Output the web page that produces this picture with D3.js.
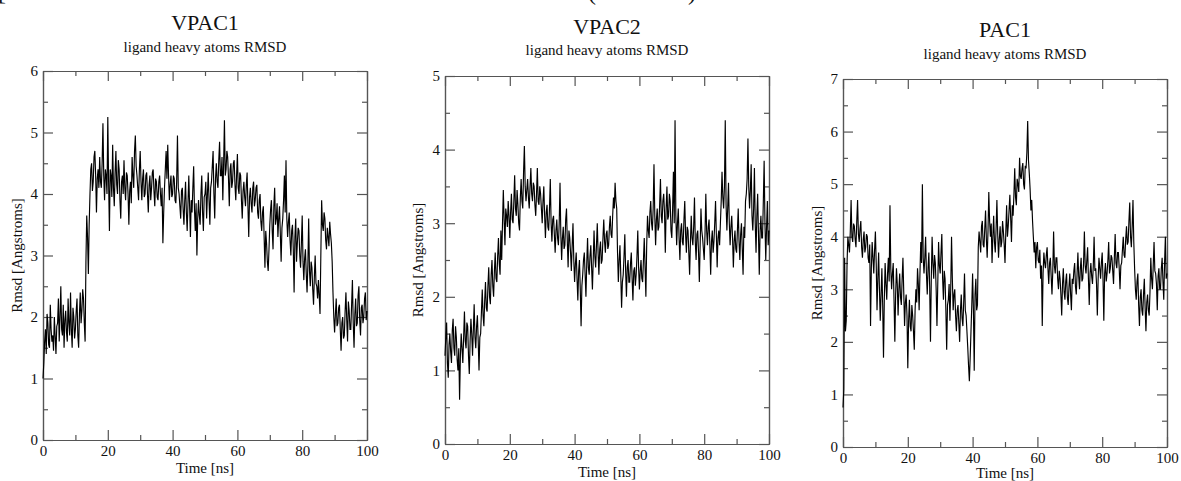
<!DOCTYPE html>
<html><head><meta charset="utf-8">
<script src="https://cdn.jsdelivr.net/npm/d3@7"></script>
<style>
html,body{margin:0;padding:0;background:#fff;}
svg{display:block;}
text{font-family:"Liberation Serif","Times New Roman",serif;fill:#111;}
</style></head>
<body>
<svg id="chart" width="1181" height="481"></svg>
<script>
// ---- data (time step 0.25 ns, 0..100 ns) ----
const timeStep = 0.25;
const titles = ["VPAC1", "VPAC2", "PAC1"];
const subtitle = "ligand heavy atoms RMSD";
const xLabel = "Time [ns]";
const yLabel = "Rmsd [Angstroms]";
const xTicks = [0, 20, 40, 60, 80, 100];
const yMax = [6, 5, 7];

const vpac1 = [
 1.0,1.25,1.6,1.8,1.4,2.05,1.9,1.55,1.5,2.2,1.8,1.6,1.7,1.45,2.0,1.7,1.4,1.85,1.9,2.3,
 1.6,2.0,2.5,1.8,1.7,2.2,1.5,1.95,2.1,1.75,1.6,2.3,1.9,1.7,2.4,1.8,1.5,2.15,2.0,1.65,
 1.8,2.1,2.3,1.7,1.5,2.05,2.4,1.9,2.1,2.45,2.3,1.9,1.6,2.9,3.65,3.3,2.7,3.5,4.0,4.4,
 4.5,4.05,4.2,4.6,4.7,4.3,3.7,4.25,4.4,4.1,4.6,4.2,4.1,4.5,5.15,4.3,3.9,4.4,4.3,4.0,
 5.25,4.2,3.4,4.4,4.3,3.95,4.8,4.1,3.8,4.35,4.7,4.15,4.0,4.55,4.4,3.9,3.6,4.2,4.3,4.0,
 4.55,4.1,3.9,4.35,4.3,4.0,3.5,4.05,4.2,3.85,4.6,4.3,4.1,4.7,4.95,4.45,4.3,4.1,3.9,4.4,
 4.7,4.2,3.9,4.25,4.4,3.95,4.0,4.3,4.35,4.0,3.7,4.15,4.3,3.9,4.1,4.35,4.4,4.05,3.8,4.25,
 4.2,3.95,3.9,4.2,4.3,4.0,3.8,4.1,3.2,3.7,4.1,4.4,4.7,4.25,4.8,4.3,3.9,4.15,4.3,3.95,
 4.0,4.3,4.25,3.9,3.85,4.2,4.95,4.1,4.0,3.8,3.6,4.05,4.1,3.75,3.5,3.9,4.2,3.7,3.4,3.85,
 4.3,3.8,3.3,3.9,3.7,4.1,4.45,3.75,3.4,3.85,3.0,3.6,3.9,3.65,3.5,4.0,4.3,3.7,3.4,3.95,
 4.0,4.2,3.6,4.0,4.35,3.9,3.5,4.1,4.2,4.45,4.7,4.0,3.6,4.25,4.5,4.2,4.1,4.55,4.85,4.3,
 4.3,4.6,3.9,4.5,5.2,4.3,4.4,4.7,4.6,4.25,3.8,4.4,4.5,4.1,4.2,4.5,4.55,4.15,3.9,4.3,
 4.65,4.1,4.0,4.35,4.3,3.9,3.6,4.05,4.2,3.95,3.8,4.15,4.35,3.8,3.3,3.95,4.1,3.85,3.7,4.1,
 4.2,3.8,3.9,4.1,4.15,3.7,3.6,3.9,4.0,3.55,3.4,3.7,3.8,3.3,2.8,3.4,3.2,2.9,2.75,3.1,
 3.5,3.75,3.9,3.4,3.1,3.8,4.1,3.5,3.6,3.85,3.3,3.6,3.8,3.35,2.9,3.45,3.6,3.9,4.3,3.7,
 4.55,3.6,3.3,3.55,3.7,3.25,3.0,3.4,3.5,3.1,2.4,3.3,3.6,2.9,3.2,3.45,3.4,3.0,2.8,3.2,
 3.65,2.9,2.6,2.95,3.1,2.7,2.4,2.85,3.6,2.75,2.5,2.9,2.8,2.45,2.2,2.65,3.0,2.55,2.5,2.3,
 2.6,2.35,2.05,3.0,3.9,3.5,3.4,3.7,3.6,3.25,3.1,3.45,3.3,3.15,3.55,3.35,3.2,2.9,2.4,2.0,
 1.75,2.05,2.3,1.85,1.9,2.15,2.2,1.8,1.45,1.9,2.0,1.65,1.7,2.1,2.4,1.95,1.6,2.25,2.1,1.8,
 1.8,2.2,2.6,1.9,1.5,2.05,2.3,1.85,1.9,2.35,2.5,1.95,1.7,2.15,2.2,1.9,2.0,2.3,2.4,1.95,
 2.1];

const vpac2 = [
 1.2,1.45,1.65,1.1,0.9,1.35,1.5,1.25,1.1,1.55,1.7,1.3,1.2,1.6,1.45,1.15,1.0,1.3,0.6,1.2,
 1.5,1.3,1.1,1.45,1.8,1.4,1.3,1.65,1.6,1.2,0.95,1.4,1.7,1.5,1.2,1.55,1.9,1.45,1.3,1.6,
 1.75,1.4,1.0,1.45,1.5,1.8,2.1,1.75,1.6,1.95,2.2,1.85,1.8,2.15,2.4,2.0,1.9,2.3,2.5,2.15,
 2.0,2.35,2.6,2.25,2.2,2.55,2.8,2.45,2.3,2.9,2.5,3.0,3.45,3.05,2.7,3.2,3.1,2.95,3.3,3.1,
 2.8,3.15,3.4,3.05,3.0,3.3,3.65,3.2,3.1,3.45,3.25,3.0,2.9,3.35,3.6,3.3,3.2,3.7,4.05,3.5,
 3.3,3.45,3.6,3.35,3.2,3.5,3.75,3.4,3.3,3.55,3.5,3.25,3.1,3.4,3.75,3.3,3.25,3.5,3.4,3.2,
 3.0,3.3,3.5,3.1,2.8,3.15,3.25,2.95,2.9,3.2,3.6,3.0,2.75,3.05,3.1,2.85,2.6,2.9,3.05,2.8,
 2.7,3.0,3.55,2.85,2.5,2.8,2.95,2.65,2.7,3.05,3.2,2.75,2.4,2.9,2.8,2.6,2.35,2.7,3.0,2.5,
 2.2,2.45,2.6,2.25,1.95,2.35,2.5,2.1,1.6,2.15,2.3,2.5,2.6,2.3,2.0,2.45,2.8,2.4,2.3,2.55,
 2.7,2.4,2.1,2.5,2.9,2.55,2.4,2.7,3.0,2.6,2.3,2.65,2.75,2.45,2.5,2.8,3.05,2.75,2.6,2.85,
 2.9,2.65,2.7,2.95,3.1,2.85,2.8,3.1,3.35,3.2,3.55,3.3,3.2,2.6,2.2,2.5,2.7,2.3,1.85,2.2,
 2.3,2.55,2.85,2.35,2.0,2.4,2.5,2.2,2.2,2.45,2.6,2.25,1.95,2.35,2.4,2.15,2.3,2.55,2.9,2.4,
 2.1,2.35,2.5,2.25,2.2,2.5,2.8,2.4,2.0,2.7,3.1,2.9,2.8,3.15,3.3,3.0,2.9,3.2,3.8,3.1,
 2.7,3.05,3.2,2.9,2.95,3.25,3.6,3.1,3.0,3.3,3.4,3.15,2.6,3.2,3.5,3.05,3.1,3.4,3.3,2.9,
 2.8,3.2,3.7,3.0,4.4,3.1,2.7,3.0,3.2,2.8,2.5,2.9,3.0,2.75,2.7,3.05,3.3,2.85,2.6,2.95,
 2.9,2.6,2.3,2.75,3.1,2.8,2.7,2.95,3.35,2.75,2.5,2.85,2.9,2.6,2.2,2.7,3.2,2.9,2.8,2.65,
 2.5,2.85,3.4,2.9,2.7,2.95,3.05,2.7,2.3,2.75,2.9,2.6,2.75,3.0,3.3,2.85,2.4,2.8,2.9,2.7,
 3.0,3.3,3.7,3.35,3.2,3.5,4.4,3.25,2.9,3.2,3.55,3.0,2.7,2.95,3.1,2.8,2.4,2.75,2.9,2.65,
 2.6,2.9,3.2,2.75,2.5,2.85,3.0,2.65,2.3,2.95,2.8,3.3,3.4,3.6,4.15,3.5,3.2,3.45,3.8,3.1,
 2.9,3.2,3.75,3.0,2.6,3.1,3.4,2.85,2.3,2.9,3.1,2.8,2.8,3.3,3.85,3.0,2.5,2.95,3.3,2.7,
 2.9];

const pac1 = [
 0.75,1.1,3.6,2.2,2.4,3.5,4.0,3.85,3.7,4.1,4.7,4.0,3.9,4.25,4.2,3.95,3.8,4.3,4.7,4.05,
 3.9,4.15,4.3,3.8,3.6,3.95,4.1,3.7,3.8,4.05,4.0,3.6,3.5,3.85,2.3,3.4,3.9,3.6,3.3,3.75,
 4.1,3.5,2.6,3.2,3.7,3.0,2.4,2.9,3.4,2.7,1.7,2.8,3.5,3.1,2.8,3.3,3.6,3.15,4.6,3.4,
 3.0,3.3,3.5,2.8,2.0,2.9,3.4,3.1,2.5,3.0,3.3,2.85,2.7,3.2,3.6,2.95,2.3,2.75,2.9,2.5,
 1.5,2.4,2.8,2.3,2.2,2.7,2.5,2.2,1.85,2.6,3.0,2.75,3.4,3.1,2.6,3.3,3.9,3.5,5.0,3.6,
 3.3,3.6,4.0,3.3,2.9,3.4,3.7,3.05,2.0,3.2,4.0,3.5,3.2,3.65,3.5,3.0,2.3,3.1,3.9,3.45,
 3.3,3.7,4.05,3.2,2.8,3.35,3.2,2.6,1.85,2.7,2.8,3.1,2.4,3.0,4.0,3.2,2.6,2.9,3.0,2.5,
 2.2,2.6,2.7,2.35,2.0,2.6,2.9,2.45,2.3,2.75,3.3,2.6,2.5,2.2,1.9,1.55,1.25,1.7,2.2,2.7,
 3.3,2.6,1.45,2.9,3.2,2.6,2.7,3.8,4.1,3.9,3.7,4.2,4.3,3.85,3.8,4.15,4.5,3.95,3.6,4.1,
 4.85,4.3,4.0,4.25,3.5,4.0,4.4,3.9,3.7,4.15,4.7,4.05,3.6,3.95,4.2,3.8,3.9,4.3,4.1,3.85,
 3.5,4.1,4.6,4.0,4.2,4.5,4.8,4.35,3.9,4.6,4.4,4.8,5.3,4.75,4.6,5.1,5.0,4.85,5.5,5.15,
 5.1,5.3,5.4,5.0,4.9,5.35,5.3,5.6,6.2,5.45,5.2,4.9,4.5,4.7,4.3,4.0,3.7,3.9,3.4,3.8,
 3.9,3.55,3.5,3.75,3.2,3.45,2.3,3.3,3.7,3.5,3.4,3.65,3.8,3.4,3.1,3.5,3.6,3.25,2.9,3.35,
 4.1,3.45,3.3,3.6,3.6,3.2,3.0,3.35,3.2,2.9,2.5,3.1,3.4,2.95,2.8,3.15,3.3,2.85,2.7,3.05,
 3.3,2.9,2.6,3.2,3.1,3.35,3.5,3.05,2.9,3.3,3.7,3.25,3.0,3.4,3.6,3.15,3.2,3.5,4.1,3.45,
 3.3,3.55,3.8,3.2,2.7,3.3,3.5,3.25,3.1,3.45,4.0,3.35,3.4,3.1,2.5,3.2,3.6,3.4,3.2,3.5,
 3.7,3.2,2.4,3.3,3.5,3.15,3.3,3.55,3.9,3.3,3.4,3.65,3.6,3.35,3.1,3.6,4.05,3.5,3.4,3.7,
 3.7,3.4,3.0,3.45,3.5,3.75,4.0,3.65,3.6,3.95,4.2,3.85,3.9,4.3,4.65,4.0,3.8,4.2,4.7,3.9,
 3.4,3.0,2.8,3.15,3.3,2.7,2.3,2.85,3.0,2.6,2.5,2.9,3.2,2.65,2.2,2.75,2.9,2.6,2.5,2.95,
 3.6,3.2,3.0,3.45,3.9,3.35,3.3,3.1,2.6,3.25,3.4,3.0,3.0,3.4,3.6,3.15,2.8,3.5,4.0,3.2,
 3.3];

const series = [vpac1, vpac2, pac1];

// ---- layout ----
const panels = [
  {x0: 43,  x1: 367,  top: 71, bottom: 440, titleY: 30, subY: 52, ylabX: 22},
  {x0: 445, x1: 769,  top: 76, bottom: 444, titleY: 34, subY: 55, ylabX: 423},
  {x0: 843, x1: 1167, top: 79, bottom: 447, titleY: 37, subY: 59, ylabX: 822}
];
const frameColor = "#555";

const svg = d3.select("#chart");

// clipped caption fragments at the very top edge (as in the reference)
svg.append("text").attr("x", -2).attr("y", 0).attr("font-size", 24).text("[");
svg.append("text").attr("x", 588).attr("y", 0).attr("font-size", 24).text("(");
svg.append("text").attr("x", 688).attr("y", 0).attr("font-size", 24).text(")");

panels.forEach((p, i) => {
  const data = series[i].map((v, k) => ({t: k * timeStep, v: v}));
  const x = d3.scaleLinear().domain([0, 100]).range([p.x0, p.x1]);
  const y = d3.scaleLinear().domain([0, yMax[i]]).range([p.bottom, p.top]);
  const g = svg.append("g");

  const yMajor = d3.range(0, yMax[i] + 0.001, 1);
  const yMinor = d3.range(0.5, yMax[i], 1);
  const xMinor = d3.range(10, 100, 20);

  function styleAxis(sel) {
    sel.selectAll("path,line").attr("stroke", frameColor).attr("stroke-width", 1.2);
    sel.selectAll("text").attr("font-size", 15).attr("fill", "#111");
  }

  // bottom
  g.append("g").attr("transform", `translate(0,${p.bottom})`)
    .call(d3.axisBottom(x).tickValues(xTicks).tickSizeInner(-10).tickSizeOuter(0).tickPadding(5).tickFormat(d3.format("d")))
    .call(styleAxis);
  g.append("g").attr("transform", `translate(0,${p.bottom})`)
    .call(d3.axisBottom(x).tickValues(xMinor).tickSizeInner(-5).tickSizeOuter(0).tickFormat(""))
    .call(styleAxis);
  // top
  g.append("g").attr("transform", `translate(0,${p.top})`)
    .call(d3.axisTop(x).tickValues(xTicks).tickSizeInner(-10).tickSizeOuter(0).tickFormat(""))
    .call(styleAxis);
  g.append("g").attr("transform", `translate(0,${p.top})`)
    .call(d3.axisTop(x).tickValues(xMinor).tickSizeInner(-5).tickSizeOuter(0).tickFormat(""))
    .call(styleAxis);
  // left
  g.append("g").attr("transform", `translate(${p.x0},0)`)
    .call(d3.axisLeft(y).tickValues(yMajor).tickSizeInner(-10).tickSizeOuter(0).tickPadding(5).tickFormat(d3.format("d")))
    .call(styleAxis);
  g.append("g").attr("transform", `translate(${p.x0},0)`)
    .call(d3.axisLeft(y).tickValues(yMinor).tickSizeInner(-5).tickSizeOuter(0).tickFormat(""))
    .call(styleAxis);
  // right
  g.append("g").attr("transform", `translate(${p.x1},0)`)
    .call(d3.axisRight(y).tickValues(yMajor).tickSizeInner(-10).tickSizeOuter(0).tickFormat(""))
    .call(styleAxis);
  g.append("g").attr("transform", `translate(${p.x1},0)`)
    .call(d3.axisRight(y).tickValues(yMinor).tickSizeInner(-5).tickSizeOuter(0).tickFormat(""))
    .call(styleAxis);

  // data line
  const line = d3.line().x(d => x(d.t)).y(d => y(d.v));
  g.append("path").datum(data).attr("d", line)
    .attr("fill", "none").attr("stroke", "#000").attr("stroke-width", 1.15);

  // titles
  const cx = (p.x0 + p.x1) / 2;
  g.append("text").attr("x", cx).attr("y", p.titleY).attr("text-anchor", "middle")
    .attr("font-size", 22).text(titles[i]);
  g.append("text").attr("x", cx).attr("y", p.subY).attr("text-anchor", "middle")
    .attr("font-size", 15).text(subtitle);
  g.append("text").attr("x", cx).attr("y", Math.min(p.bottom + 33, 478)).attr("text-anchor", "middle")
    .attr("font-size", 15).text(xLabel);
  g.append("text").attr("transform", `translate(${p.ylabX},${(p.top + p.bottom) / 2}) rotate(-90)`)
    .attr("text-anchor", "middle").attr("font-size", 15).text(yLabel);
});
</script>
</body></html>
